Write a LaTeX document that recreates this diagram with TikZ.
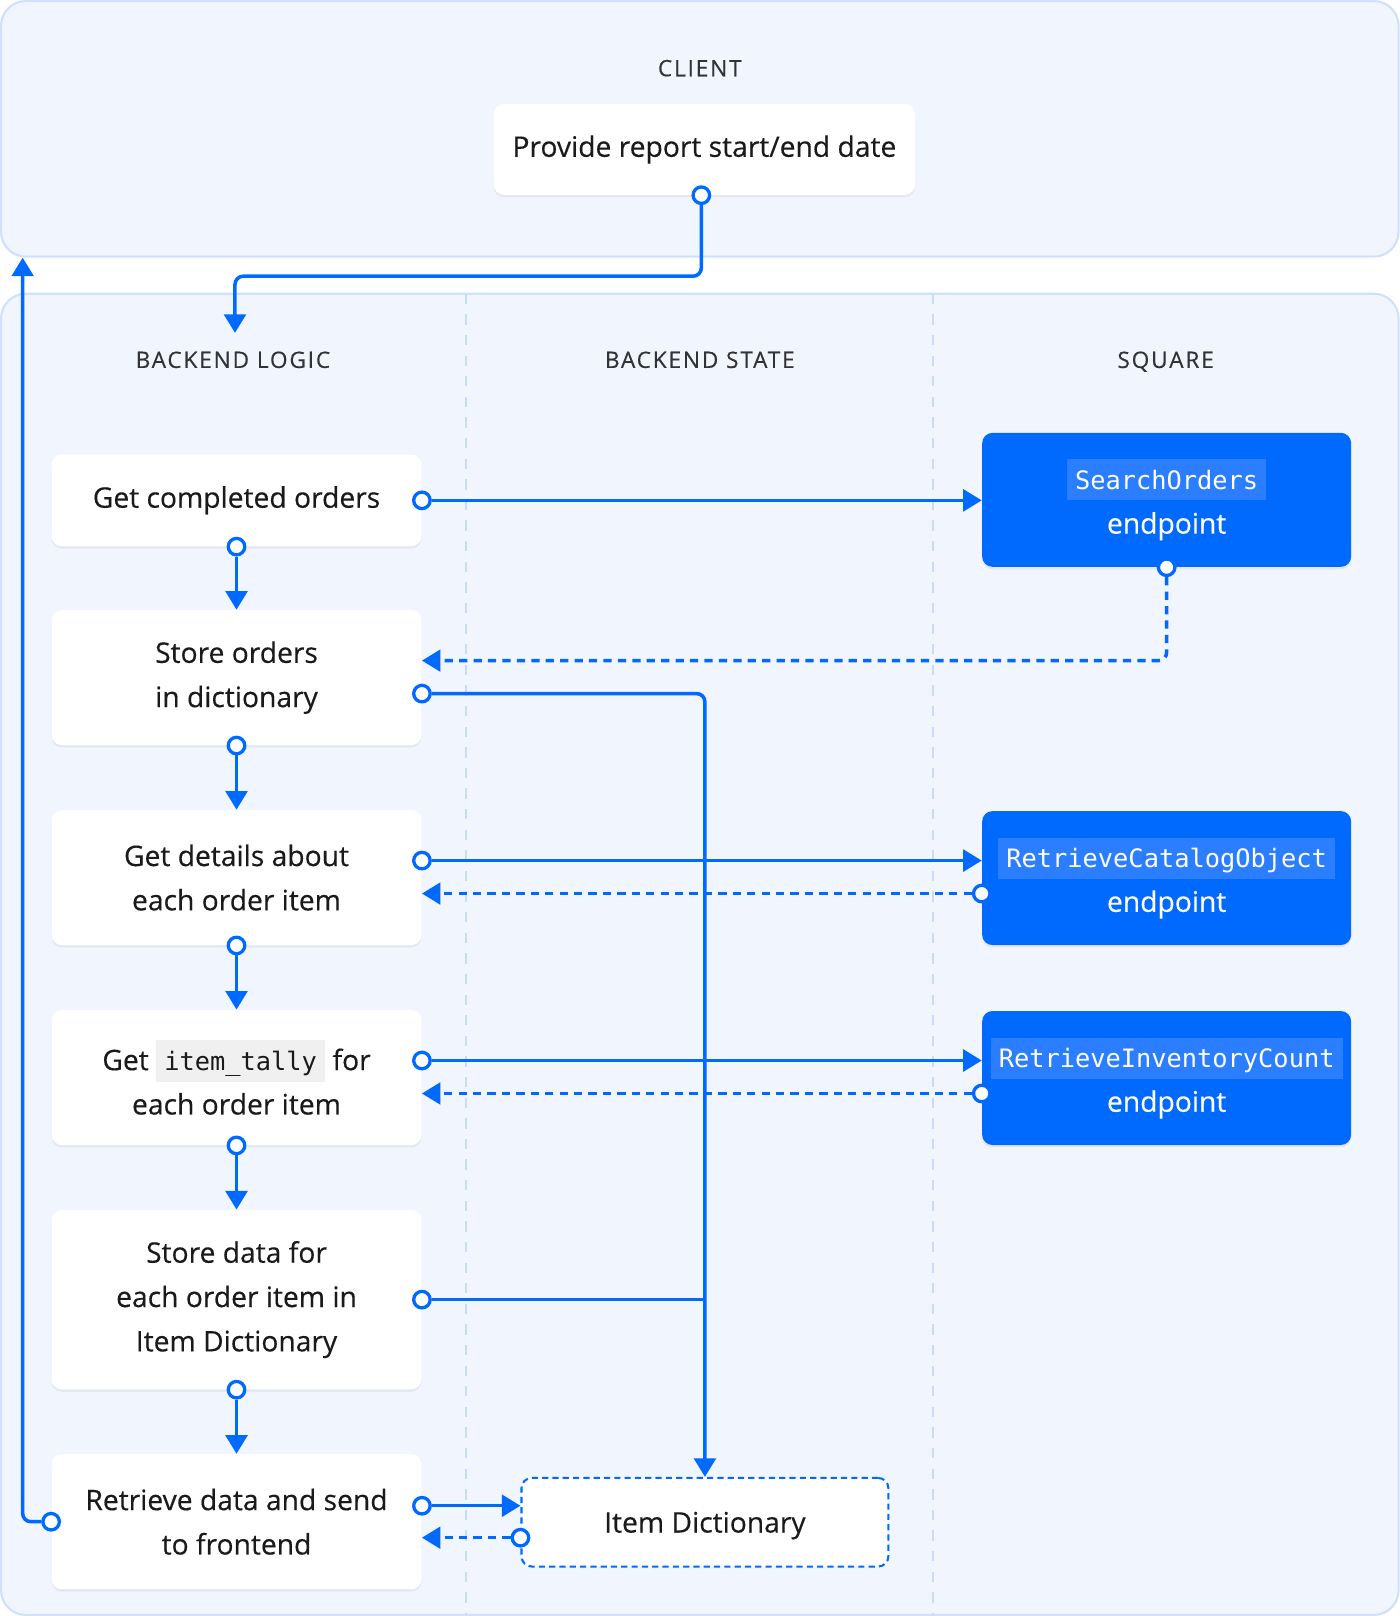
\documentclass[tikz,border=0pt]{standalone}
\usepackage{fontspec}
\setmainfont{Open Sans}
\newfontfamily\medfont{Open Sans}[FakeBold=0.35]
\setmonofont{DejaVu Sans Mono}
\usepackage{tikz}
\usetikzlibrary{arrows.meta,calc,shadows}
\usetikzlibrary{positioning}
\definecolor{sqblue}{HTML}{006AFF}
\definecolor{chipblue}{HTML}{2B7EFF}
\definecolor{chipgray}{HTML}{F0F0F0}
\definecolor{panelfill}{HTML}{F0F5FE}
\definecolor{paneledge}{HTML}{CFE0FC}
\definecolor{lanecolor}{HTML}{C8DBF8}
\definecolor{headtext}{HTML}{333333}
\definecolor{bodytext}{HTML}{1A1A1A}
\newcommand{\codechip}[2]{{\setlength{\fboxsep}{3pt}\colorbox{#1}{\ttfamily\fontsize{12.3pt}{14pt}\selectfont\rule[-2pt]{0pt}{13.5pt}\hspace{1pt}#2\hspace{1pt}}}}
\tikzstyle{panel}=[
  draw=paneledge, fill=panelfill, line width=1pt, rounded corners=12pt, inner sep=0pt
]
\tikzstyle{lanehead}=[
  text=headtext, inner sep=0pt, text height=8pt, text depth=0pt,
  font=\medfont\fontsize{11pt}{13pt}\selectfont\addfontfeature{LetterSpace=8}
]
\tikzstyle{logicnode}=[
  fill=white, rounded corners=5pt, minimum width=179.5pt, align=center, text=bodytext,
  font=\medfont\fontsize{13.7pt}{21.5pt}\selectfont,
  drop shadow={opacity=0.10, shadow xshift=0pt, shadow yshift=-1.2pt}
]
\tikzstyle{sqnode}=[
  fill=sqblue, rounded corners=5pt, minimum width=179pt, minimum height=65pt, align=center,
  text=white, font=\medfont\fontsize{13.7pt}{21.5pt}\selectfont,
  drop shadow={opacity=0.10, shadow xshift=0pt, shadow yshift=-1.2pt}
]
\tikzstyle{statenode}=[
  draw=sqblue, dash pattern=on 3pt off 2pt, line width=1pt, fill=white, rounded corners=5pt,
  minimum width=178pt, minimum height=43pt, text=bodytext, font=\medfont\fontsize{13.7pt}{21.5pt}\selectfont
]
\tikzstyle{port}=[
  circle, draw=sqblue, fill=white, line width=1.6pt, inner sep=0pt, minimum size=8pt
]
\tikzstyle{plainedge}=[
  draw=sqblue, line width=1.7pt, rounded corners=4pt
]
\tikzstyle{calledge}=[
  plainedge, -{Triangle[length=9pt,width=10.5pt]}
]
\tikzstyle{returnedge}=[
  calledge, dash pattern=on 4pt off 3pt
]
\tikzstyle{laneline}=[
  draw=lanecolor, line width=0.8pt, dash pattern=on 5pt off 5pt
]

\begin{document}
\begin{tikzpicture}[x=0.5pt,y=-0.5pt]
  \useasboundingbox (0,0) rectangle (1358,1568);
  % lanes
  \node (client) [panel, minimum width=678pt, minimum height=124pt] at (679,125) {};
  \node (backend) [panel, minimum width=678pt, minimum height=641pt] at (679,926) {};
  \foreach \lx in {452,905}
    \draw [laneline] ($(backend.north west)+(\lx,1)$) -- ($(backend.south west)+(\lx,-1)$);
  \node (clienthead) [lanehead] at (679,66) {CLIENT};
  \node (logichead) [lanehead] at (226,349) {BACKEND LOGIC};
  \node (statehead) [lanehead] at (679,349) {BACKEND STATE};
  \node (squarehead) [lanehead] at (1131,349) {SQUARE};

  % steps
  \node (provide) [logicnode, minimum width=204.5pt, minimum height=44pt] at (683.5,145) {Provide report start/end date};
  \node (getorders) [logicnode, minimum height=44.5pt] at (229.5,485.5) {Get completed orders};
  \node (storeorders) at ($(getorders) + (0,172)$) [logicnode, minimum height=65.5pt] {Store orders\\in dictionary};
  \node (getdetails) at ($(storeorders) + (0,194)$) [logicnode, minimum height=65.5pt] {Get details about\\each order item};
  \node (gettally) at ($(getdetails) + (0,194)$) [logicnode, minimum height=65.5pt] {Get \codechip{chipgray}{item\_tally} for\\each order item};
  \node (storedata) at ($(gettally) + (0,215.5)$) [logicnode, minimum height=87pt] {Store data for\\each order item in\\Item Dictionary};
  \node (retrieve) at ($(storedata) + (0,215.5)$) [logicnode, minimum height=65.5pt] {Retrieve data and send\\to frontend};

  % square endpoints and state
  \node (searchorders) [sqnode] at (1132,485) {\codechip{chipblue}{SearchOrders}\\endpoint};
  \node (catalog) at ($(searchorders) + (0,367)$) [sqnode] {\codechip{chipblue}{RetrieveCatalogObject}\\endpoint};
  \node (inventory) at ($(catalog) + (0,194)$) [sqnode] {\codechip{chipblue}{RetrieveInventoryCount}\\endpoint};
  \node (itemdict) [statenode, text height=10pt, text depth=0pt] at (684,1477) {Item Dictionary};

  % client to backend
  \coordinate (logicin) at (228,323);
  \node (provideport) [port] at ($(provide.south) + (-3,0)$) {};
  \draw [calledge] (provideport) |- ($(logicin) + (0,-55)$) -- (logicin);

  % main flow
  \foreach \a/\b in {getorders/storeorders, storeorders/getdetails, getdetails/gettally,
                     gettally/storedata, storedata/retrieve} {
    \node (\a-down) [port] at (\a.south) {};
    \draw [calledge] (\a-down) -- (\b.north);
  }

  % calls to square
  \node (ordersport) [port] at (getorders.east) {};
  \draw [calledge] (ordersport) -- (searchorders.west |- ordersport);
  \node (searchport) [port] at (searchorders.south) {};
  \coordinate (storein) at ($(storeorders.east) + (0,-16.5)$);
  \draw [returnedge] (searchport) |- (storein);

  \node (detailsport) [port] at ($(getdetails.east) + (0,-16.5)$) {};
  \draw [calledge] (detailsport) -- (catalog.west |- detailsport);
  \node (catalogport) [port] at ($(catalog.west) + (0,15)$) {};
  \draw [returnedge] (catalogport) -- (getdetails.east |- catalogport);

  \node (tallyport) [port] at ($(gettally.east) + (0,-16.5)$) {};
  \draw [calledge] (tallyport) -- (inventory.west |- tallyport);
  \node (inventoryport) [port] at ($(inventory.west) + (0,15)$) {};
  \draw [returnedge] (inventoryport) -- (gettally.east |- inventoryport);

  % state
  \node (storeport) [port] at ($(storeorders.east) + (0,15.5)$) {};
  \draw [calledge] (storeport) -| (itemdict.north);
  \node (storedataport) [port] at (storedata.east) {};
  \draw [plainedge] (storedataport) -- (itemdict.north |- storedataport);
  \node (retrieveport) [port] at ($(retrieve.east) + (0,-15.5)$) {};
  \draw [calledge] (retrieveport) -- (itemdict.west |- retrieveport);
  \node (dictport) [port] at ($(itemdict.west) + (0,15)$) {};
  \draw [returnedge] (dictport) -- (retrieve.east |- dictport);

  % back to client
  \node (frontport) [port] at (retrieve.west) {};
  \draw [calledge] (frontport) -| ($(client.south west) + (22,0)$);
\end{tikzpicture}
\end{document}
